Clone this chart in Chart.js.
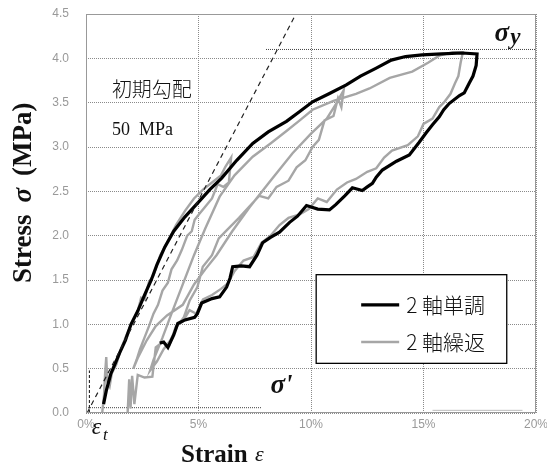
<!DOCTYPE html>
<html>
<head>
<meta charset="utf-8">
<script src="https://cdn.jsdelivr.net/npm/chart.js@4.4.1/dist/chart.umd.min.js"></script>
<style>
  html, body { margin: 0; padding: 0; background: #fff; }
  #wrap { width: 547px; height: 467px; }
</style>
</head>
<body>
<div id="wrap"><canvas id="ssChart"></canvas></div>
<script>
// stress-strain: 2軸単調 (monotonic) vs 2軸繰返 (cyclic)

// axis ticks
const strainTicks = [0, 5, 10, 15, 20];
const stressTicks = [0, 0.5, 1.0, 1.5, 2.0, 2.5, 3.0, 3.5, 4.0, 4.5];

// 2軸単調 : strain (%) and stress (MPa)
const monoStrain = [0.78,0.9,1.1,1.3,1.5,1.75,2.0,2.3,2.6,2.9,3.15,3.5,3.9,4.39,4.97,5.5,6.03,6.7,7.41,8.1,8.91,9.5,10.07,10.8,11.57,12.2,12.9,13.57,14.2,14.94,15.8,16.72,17.38,
  17.34,17.2,17.03,16.81,16.6,16.14,15.9,15.7,15.4,15.12,14.8,14.37,13.8,13.17,12.9,12.73,12.5,12.28,11.84,11.5,11.1,10.82,10.3,9.8,9.4,9.05,8.6,8.2,7.85,7.6,7.27,6.9,6.52,6.4,6.25,5.94,5.6,5.14,4.95,4.83,4.4,4.08,3.9,3.64,3.45,3.28];
const monoStress = [0.1,0.25,0.44,0.56,0.68,0.82,1.0,1.15,1.33,1.5,1.67,1.87,2.05,2.21,2.37,2.52,2.65,2.85,3.04,3.17,3.29,3.4,3.51,3.6,3.7,3.8,3.89,3.98,4.02,4.04,4.05,4.06,4.05,
  3.92,3.8,3.72,3.61,3.58,3.49,3.42,3.34,3.25,3.16,3.05,2.91,2.84,2.74,2.66,2.59,2.55,2.51,2.54,2.45,2.35,2.29,2.3,2.34,2.22,2.15,2.04,1.98,1.92,1.78,1.65,1.66,1.65,1.52,1.42,1.31,1.29,1.24,1.12,1.08,1.05,1.01,0.88,0.74,0.8,0.79];

// 2軸繰返 : strain (%) and stress (MPa), one continuous path of loops
const cycStrain = [
  0.72,0.8,0.85,0.9,0.95,1.05,1.15,1.35,1.55,1.8,2.05,2.3,2.45,2.6,2.8,3.0,3.3,3.6,4.0,4.4,4.8,5.2,5.6,6.0,6.2,6.45,
  6.35,6.1,5.85,5.6,5.28,5.05,4.83,4.7,4.5,4.26,4.05,3.8,3.64,3.4,3.2,3.0,2.8,2.6,2.4,2.25,2.1,
  2.3,2.7,3.1,3.6,4.3,4.8,5.3,5.8,6.5,7.27,8.2,9.18,10.0,10.7,11.1,11.45,
  11.35,11.2,11.0,10.6,10.35,10.07,9.75,9.36,9.0,8.47,8.1,7.7,7.27,6.8,6.25,5.9,5.6,5.19,4.95,4.61,4.35,4.05,3.75,3.45,3.15,2.85,
  3.0,3.4,3.8,4.3,4.8,5.3,5.94,6.6,7.41,8.2,8.91,9.5,10.07,11.0,12.0,12.6,13.5,14.5,15.2,15.7,16.3,16.75,
  16.65,16.55,16.4,16.2,15.9,15.7,15.4,15.0,14.75,14.3,13.6,13.25,12.9,12.5,12.0,11.6,11.15,10.7,10.3,9.9,9.5,9.0,8.6,8.2,7.8,7.45,7.0,6.6,6.3,6.0,5.6,5.2,4.9,4.6,4.3,4.0,3.7,3.4,3.1,2.95,2.6,2.3,2.15,2.05,1.98,1.92,1.85];
const cycStress = [
  0.0,0.2,0.45,0.63,0.35,0.3,0.45,0.55,0.72,0.88,1.02,1.15,1.3,1.28,1.48,1.55,1.78,1.92,2.12,2.28,2.42,2.52,2.6,2.68,2.78,2.88,
  2.6,2.55,2.58,2.42,2.32,2.25,2.18,2.05,2.0,1.84,1.72,1.62,1.47,1.38,1.22,1.12,0.98,0.85,0.72,0.6,0.5,
  0.62,0.82,0.98,1.1,1.22,1.45,1.62,1.78,2.05,2.32,2.62,2.93,3.15,3.32,3.48,3.64,
  3.45,3.55,3.35,3.3,3.08,3.0,2.85,2.77,2.62,2.55,2.42,2.45,2.33,2.2,2.06,1.97,1.78,1.65,1.42,1.27,1.08,0.98,0.82,0.72,0.58,0.48,
  0.6,0.85,1.12,1.45,1.78,2.08,2.44,2.68,2.89,3.04,3.18,3.3,3.42,3.52,3.6,3.66,3.78,3.85,3.95,4.03,4.07,4.07,
  3.95,3.8,3.72,3.6,3.5,3.45,3.32,3.26,3.12,3.02,2.96,2.88,2.76,2.72,2.64,2.6,2.52,2.38,2.42,2.3,2.24,2.2,2.12,2.0,1.92,1.76,1.72,1.6,1.46,1.4,1.33,1.28,1.12,1.16,1.03,0.98,0.76,0.8,0.74,0.41,0.4,0.43,0.1,0.42,0.05,0.38,0.0];

// 初期勾配 50 MPa guide line, σy level, σ' level, εt marker
const slopeStrain = [0.05, 9.33];
const slopeStress = [0, 4.5];
const sigmaYStrain = [8.0, 20];
const sigmaYStress = [4.1, 4.1];
const sigmaDashStrain = [0, 7.8];
const sigmaDashStress = [0.06, 0.06];
const epsTStrain = [0.15, 0.15];
const epsTStress = [0, 0.48];
const stubStrain = [15.4, 19.4];
const stubStress = [0.03, 0.03];

const pts = (xs, ys) => xs.map((x, i) => ({ x: x, y: ys[i] }));

const serif = "'Liberation Serif', 'DejaVu Serif', serif";
const jp = "'Noto Sans CJK JP', sans-serif";

// pin the plot area to the same box as the original figure
const fixArea = {
  id: "fixArea",
  afterLayout(chart) {
    const A = { left: 86, top: 14, right: 536, bottom: 413 };
    const x = chart.scales.x, y = chart.scales.y;
    Object.assign(chart.chartArea, A, { width: A.right - A.left, height: A.bottom - A.top });
    x.left = A.left; x.right = A.right; x.width = A.right - A.left;
    x.top = A.bottom; x.bottom = chart.height; x.height = chart.height - A.bottom;
    y.left = 0; y.right = A.left; y.width = A.left;
    y.top = A.top; y.bottom = A.bottom; y.height = A.bottom - A.top;
    x.configure();
    y.configure();
  }
};

// texts, legend and frame drawn on top of the plot
const notesPlugin = {
  id: "notes",
  afterDraw(chart) {
    const ctx = chart.ctx;
    const a = chart.chartArea;
    const xs = chart.scales.x, ys = chart.scales.y;
    ctx.save();

    // frame
    ctx.strokeStyle = "#999";
    ctx.lineWidth = 1;
    ctx.strokeRect(a.left + 0.5, a.top + 0.5, a.right - a.left - 1, a.bottom - a.top - 1);

    ctx.fillStyle = "#111";
    ctx.textBaseline = "alphabetic";

    // 初期勾配 / 50 MPa
    ctx.font = "300 20px " + jp;
    ctx.textAlign = "left";
    ctx.fillText("初期勾配", xs.getPixelForValue(1.15), ys.getPixelForValue(3.56));
    ctx.font = "18px " + serif;
    ctx.fillText("50  MPa", xs.getPixelForValue(1.15), ys.getPixelForValue(3.14));

    // σy
    ctx.font = "bold italic 27px " + serif;
    ctx.fillText("σ", xs.getPixelForValue(18.15), ys.getPixelForValue(4.2));
    ctx.font = "bold italic 23px " + serif;
    ctx.fillText("y", xs.getPixelForValue(18.85), ys.getPixelForValue(4.16));

    // σ'
    ctx.font = "bold italic 27px " + serif;
    ctx.fillText("σ'", xs.getPixelForValue(8.2), ys.getPixelForValue(0.22));

    // εt
    ctx.font = "italic 24px " + serif;
    ctx.fillText("ε", xs.getPixelForValue(0.25), a.bottom + 21);
    ctx.font = "italic 17px " + serif;
    ctx.fillText("t", xs.getPixelForValue(0.75), a.bottom + 27);

    // x title
    ctx.font = "bold 25px " + serif;
    ctx.fillText("Strain", 181, 462);
    ctx.font = "italic 22px " + serif;
    ctx.fillText("ε", 255, 461);

    // y title, rotated
    ctx.translate(31, 283);
    ctx.rotate(-Math.PI / 2);
    ctx.font = "bold 27px " + serif;
    ctx.fillText("Stress", 0, 0);
    let off = ctx.measureText("Stress").width + 12;
    ctx.font = "bold italic 27px " + serif;
    ctx.fillText("σ", off, 0);
    off += ctx.measureText("σ").width + 12;
    ctx.font = "bold 27px " + serif;
    ctx.fillText("(MPa)", off, 0);
    ctx.setTransform(1, 0, 0, 1, 0, 0);

    // legend box
    const bx = xs.getPixelForValue(10.23), by = ys.getPixelForValue(1.56);
    const bw = xs.getPixelForValue(18.7) - bx, bh = ys.getPixelForValue(0.56) - by;
    ctx.fillStyle = "#fff";
    ctx.fillRect(bx, by, bw, bh);
    ctx.strokeStyle = "#000";
    ctx.lineWidth = 1.3;
    ctx.strokeRect(bx, by, bw, bh);
    const items = [
      { text: "2 軸単調", color: "#000", width: 3.2, y: by + bh * 0.34 },
      { text: "2 軸繰返", color: "#a6a6a6", width: 2.4, y: by + bh * 0.76 }
    ];
    items.forEach(it => {
      ctx.strokeStyle = it.color;
      ctx.lineWidth = it.width;
      ctx.beginPath();
      ctx.moveTo(bx + 45, it.y);
      ctx.lineTo(bx + 83, it.y);
      ctx.stroke();
      ctx.fillStyle = "#111";
      ctx.font = "300 21px " + jp;
      ctx.textBaseline = "middle";
      ctx.fillText(it.text, bx + 90, it.y);
    });
    ctx.restore();
  }
};

const guide = (xs, ys, color, width, dash) => ({
  data: pts(xs, ys),
  borderColor: color,
  borderWidth: width,
  borderDash: dash,
  pointRadius: 0,
  showLine: true,
  fill: false
});

new Chart("ssChart", {
  type: "scatter",
  data: {
    datasets: [
      { label: "2 軸単調", data: pts(monoStrain, monoStress), borderColor: "#000", borderWidth: 3.2,
        pointRadius: 0, showLine: true, tension: 0, order: 1 },
      { label: "2 軸繰返", data: pts(cycStrain, cycStress), borderColor: "#a6a6a6", borderWidth: 2.4,
        pointRadius: 0, showLine: true, tension: 0, order: 2 },
      Object.assign(guide(slopeStrain, slopeStress, "#222", 1.2, [5, 4]), { order: 0 }),
      Object.assign(guide(sigmaYStrain, sigmaYStress, "#444", 1, [1, 1]), { order: 3 }),
      Object.assign(guide(sigmaDashStrain, sigmaDashStress, "#444", 1, [1, 1]), { order: 3 }),
      Object.assign(guide(epsTStrain, epsTStress, "#111", 1, [3, 2]), { order: 3 }),
      Object.assign(guide(stubStrain, stubStress, "#bbb", 1, []), { order: 3 })
    ]
  },
  options: {
    responsive: true,
    maintainAspectRatio: false,
    animation: false,
    layout: { padding: { top: 14, right: 11, left: 0, bottom: 0 } },
    plugins: { legend: { display: false }, tooltip: { enabled: false } },
    scales: {
      x: {
        type: "linear",
        min: 0, max: 20,
        afterBuildTicks: s => { s.ticks = strainTicks.map(v => ({ value: v })); },
        ticks: { callback: v => v + "%", color: "#999", padding: 4,
                 font: { family: "'Liberation Sans', Arial, sans-serif", size: 12 } },
        grid: { color: "#8a8a8a", lineWidth: 1, drawTicks: false },
        border: { display: false, dash: [1, 1] }
      },
      y: {
        type: "linear",
        min: 0, max: 4.5,
        afterBuildTicks: s => { s.ticks = stressTicks.map(v => ({ value: v })); },
        ticks: { callback: v => Number(v).toFixed(1), color: "#999", padding: 17,
                 font: { family: "'Liberation Sans', Arial, sans-serif", size: 12 } },
        grid: { color: "#8a8a8a", lineWidth: 1, drawTicks: false },
        border: { display: false, dash: [1, 1] }
      }
    }
  },
  plugins: [fixArea, notesPlugin]
});
</script>
</body>
</html>
